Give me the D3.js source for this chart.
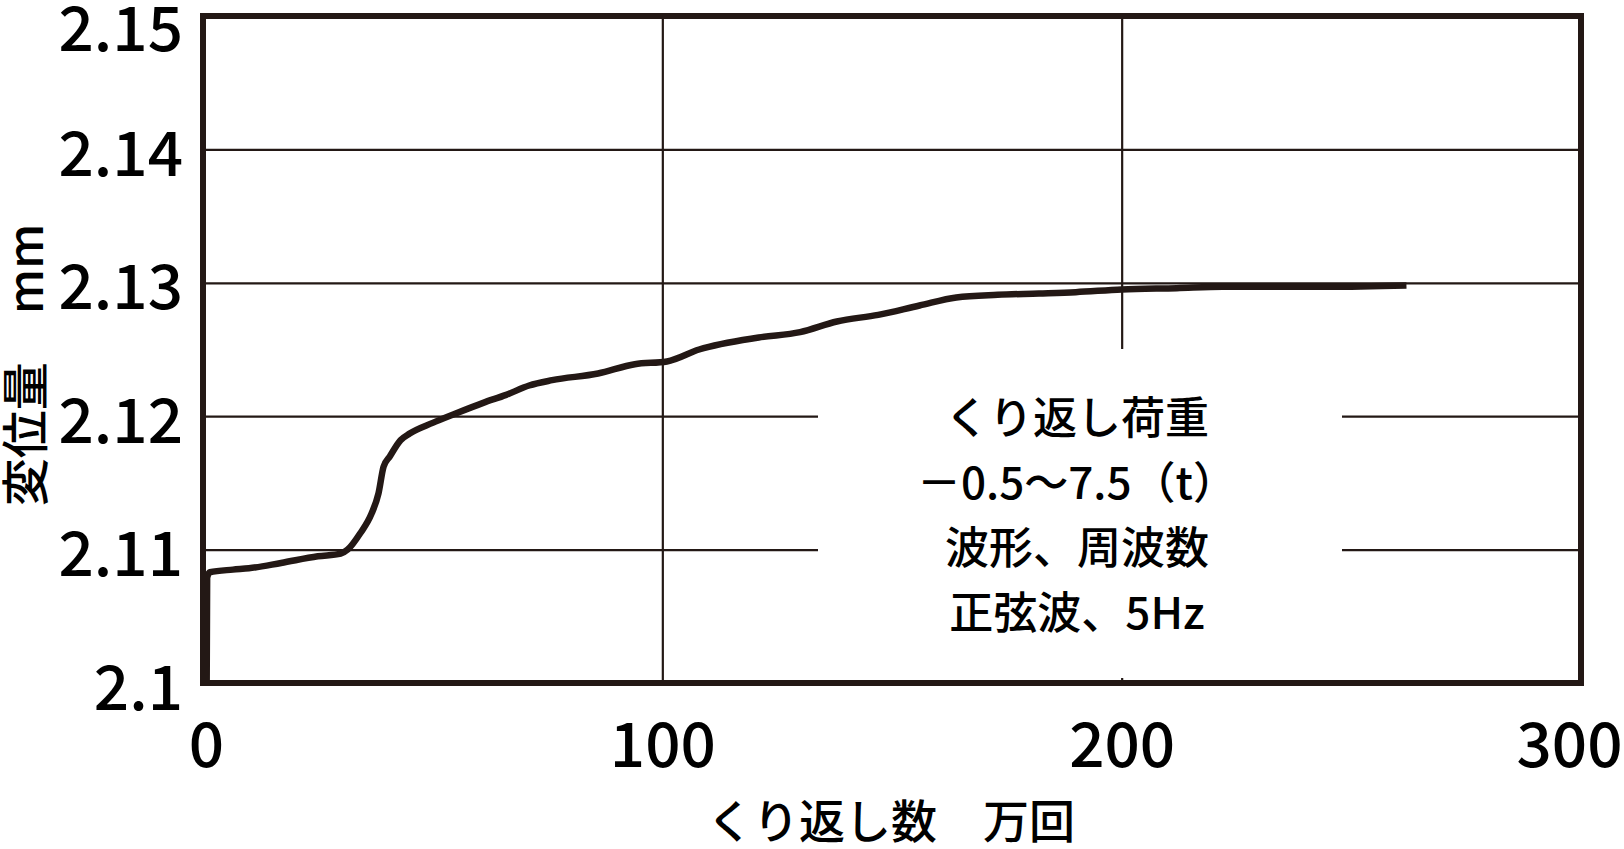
<!DOCTYPE html>
<html>
<head>
<meta charset="utf-8">
<script src="https://cdn.jsdelivr.net/npm/d3@7"></script>
<style>
  html, body { margin: 0; padding: 0; background: #fff; }
  svg { display: block; font-family: "Noto Sans CJK JP", "Noto Sans", sans-serif; font-weight: 500; }
</style>
</head>
<body>
<div id="chart"></div>
<script>
// data: cycles (万回) vs displacement (mm)
const cycles = [0.8, 0.9, 1.5, 6.5, 10, 17, 25, 30, 31.5, 34.2, 36.7, 38.2, 39.3, 40.7, 43, 45,
  50, 55, 61, 66, 71, 76, 86, 94, 101, 108, 121, 130, 138, 147, 156, 164, 173, 182,
  190, 200, 212, 222, 230, 245, 262];
const displacement = [2.100, 2.1079, 2.1083, 2.1085, 2.1086, 2.1090, 2.1095, 2.1097,
  2.1100, 2.1112, 2.1127, 2.1142, 2.1162, 2.1170, 2.1182, 2.1187, 2.1195, 2.1202,
  2.1210, 2.1216, 2.1223, 2.1227, 2.1232, 2.1239, 2.1241, 2.1250, 2.1259, 2.1263,
  2.1271, 2.1276, 2.1283, 2.1289, 2.1291, 2.1292, 2.1293, 2.1295, 2.1296, 2.1297,
  2.1297, 2.1297, 2.1298];
const xTicks = [0, 100, 200, 300];
const yTicks = [2.10, 2.11, 2.12, 2.13, 2.14, 2.15];
const yTickLabels = ["2.1", "2.11", "2.12", "2.13", "2.14", "2.15"];
const xTitle = "くり返し数　万回";
const yTitle = "変位量　mm";
const noteLines = ["くり返し荷重", "－0.5～7.5（t）", "波形、周波数", "正弦波、5Hz"];

(function() {
    const W = 1624, H = 849;
    const ink = "#231815";
    const plot = {left: 203, right: 1581, top: 16, bottom: 683};

    const svg = d3.select("#chart").append("svg")
        .attr("width", W)
        .attr("height", H);

    const x = d3.scaleLinear().domain([0, 300]).range([plot.left, plot.right]);
    const y = d3.scaleLinear().domain([2.10, 2.15]).range([plot.bottom, plot.top]);

    // grid lines
    const gridY = svg.append("g")
        .attr("transform", `translate(${plot.left},0)`)
        .call(d3.axisRight(y).tickValues(yTicks.slice(1, -1))
            .tickSize(plot.right - plot.left).tickFormat(""));
    gridY.select(".domain").remove();
    gridY.selectAll("line").attr("stroke", ink).attr("stroke-width", 2.2);

    const gridX = svg.append("g")
        .attr("transform", `translate(0,${plot.top})`)
        .call(d3.axisBottom(x).tickValues(xTicks.slice(1, -1))
            .tickSize(plot.bottom - plot.top).tickFormat(""));
    gridX.select(".domain").remove();
    gridX.selectAll("line").attr("stroke", ink).attr("stroke-width", 2.2);

    // white box behind the note
    svg.append("rect")
        .attr("x", 818).attr("y", 349)
        .attr("width", 1342 - 818).attr("height", 678 - 349)
        .attr("fill", "#fff");

    // the curve
    const pts = cycles.map((c, i) => [c, displacement[i]]);
    const line = d3.line()
        .x(d => x(d[0]))
        .y(d => y(d[1]))
        .curve(d3.curveMonotoneX);
    svg.append("path")
        .datum(pts)
        .attr("d", line)
        .attr("fill", "none")
        .attr("stroke", ink)
        .attr("stroke-width", 6.5)
        .attr("stroke-linejoin", "round")
        .attr("stroke-linecap", "butt");

    // frame
    svg.append("rect")
        .attr("x", plot.left).attr("y", plot.top)
        .attr("width", plot.right - plot.left)
        .attr("height", plot.bottom - plot.top)
        .attr("fill", "none")
        .attr("stroke", ink)
        .attr("stroke-width", 6);

    // y tick labels
    const yAxis = svg.append("g")
        .attr("transform", `translate(${plot.left},0)`)
        .call(d3.axisLeft(y).tickValues(yTicks).tickSize(0).tickPadding(20)
            .tickFormat((d, i) => yTickLabels[i]));
    yAxis.select(".domain").remove();
    yAxis.selectAll("text")
        .attr("font-family", "Noto Sans CJK JP")
        .attr("font-size", 62)
        .attr("font-weight", 500)
        .attr("fill", "#000")
        .attr("dy", (d, i) => i === yTicks.length - 1 ? "0.56em" : "0.42em");

    // x tick labels
    const xAxis = svg.append("g")
        .attr("transform", `translate(0,${plot.bottom})`)
        .call(d3.axisBottom(x).tickValues(xTicks).tickSize(0).tickPadding(0)
            .tickFormat(d3.format("d")));
    xAxis.select(".domain").remove();
    xAxis.selectAll("text")
        .attr("font-family", "Noto Sans CJK JP")
        .attr("font-size", 62)
        .attr("font-weight", 500)
        .attr("fill", "#000")
        .attr("y", 84)
        .attr("dy", 0);
    xAxis.selectAll(".tick").filter(d => d === 0).select("text").attr("dx", 3);
    xAxis.selectAll(".tick").filter(d => d === 300).select("text")
        .attr("text-anchor", "end").attr("dx", 41);

    // axis titles
    svg.append("text")
        .attr("x", 891).attr("y", 838)
        .attr("text-anchor", "middle")
        .attr("font-size", 46)
        .attr("fill", "#000")
        .text(xTitle);

    svg.append("text")
        .attr("transform", "translate(43,365) rotate(-90)")
        .attr("text-anchor", "middle")
        .attr("font-size", 48)
        .attr("fill", "#000")
        .text(yTitle);

    // note
    svg.append("g").selectAll("text")
        .data(noteLines)
        .enter().append("text")
        .attr("x", 1077)
        .attr("y", (d, i) => 418 + i * 65)
        .attr("dy", "0.36em")
        .attr("text-anchor", "middle")
        .attr("font-size", 44)
        .attr("fill", "#000")
        .text(d => d);
})();
</script>
</body>
</html>
